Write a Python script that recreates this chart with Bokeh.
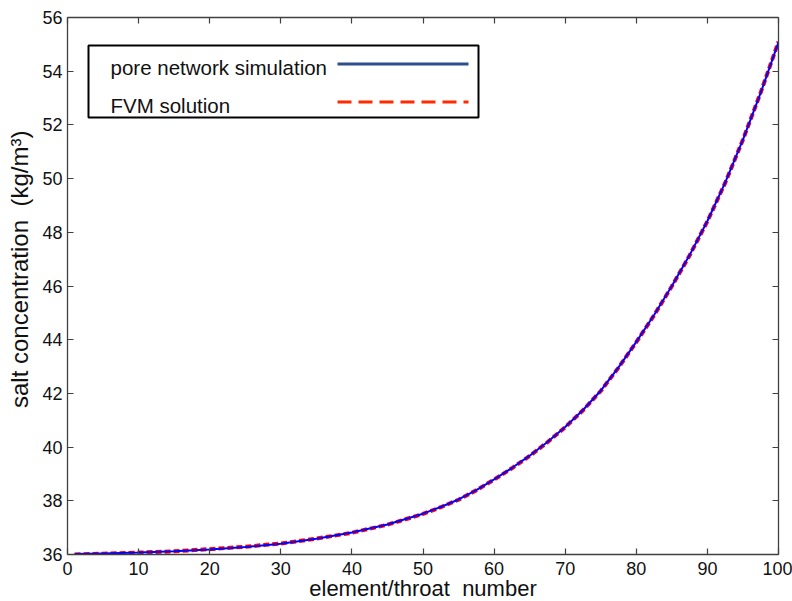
from bokeh.plotting import figure
from bokeh.models import (Range1d, LinearAxis, FixedTicker, Label, BoxAnnotation, Arrow)
from bokeh.embed import file_html
from bokeh.resources import INLINE

# ---------------- data ----------------
element = [1, 5, 10, 15, 20, 25, 30, 35, 40, 45, 50, 52.5, 55, 57.5, 60, 62.5, 65, 67.5, 70,
           72.5, 75, 77.5, 80, 82.5, 85, 87.5, 90, 92.5, 95, 97.5, 100]
pore_network = [36.02, 36.04, 36.07, 36.12, 36.19, 36.28, 36.40, 36.59, 36.82, 37.12,
                37.52, 37.77, 38.05, 38.40, 38.80, 39.22, 39.68, 40.19, 40.75,
                41.38, 42.10, 42.97, 43.92, 44.92, 46.00, 47.15, 48.42, 49.85, 51.45, 53.20, 55.08]
fvm_solution = [36.00, 36.03, 36.07, 36.12, 36.20, 36.29, 36.41, 36.59, 36.81, 37.11,
                37.51, 37.76, 38.04, 38.39, 38.79, 39.21, 39.67, 40.18, 40.74,
                41.37, 42.09, 42.96, 43.91, 44.91, 45.99, 47.14, 48.41, 49.84, 51.45, 53.21, 55.10]
x_ticks = [0, 10, 20, 30, 40, 50, 60, 70, 80, 90, 100]
y_ticks = [36, 38, 40, 42, 44, 46, 48, 50, 52, 54, 56]
series_names = ["pore network simulation", "FVM solution"]
x_title = "element/throat\u00a0 number"
y_title = "salt concentration\u00a0 (kg/m\u00b3)"

# ---------------- layout (canvas pixels) ----------------
W, H = 792, 601
FL, FR, FT, FB = 67, 778, 17, 554
X0, X1, Y0, Y1 = 0, 100, 36, 56

def dx(px):
    return X0 + (px - FL) / (FR - FL) * (X1 - X0)

def dy(py):
    return Y0 + (FB - py) / (FB - FT) * (Y1 - Y0)

FONT = "Liberation Sans"
AX = "#404040"
TXT = "#111111"

p = figure(frame_width=FR - FL, frame_height=FB - FT,
           min_border_left=FL, min_border_top=FT,
           min_border_right=W - FR, min_border_bottom=H - FB,
           x_range=Range1d(X0, X1), y_range=Range1d(Y0, Y1),
           output_backend="svg", toolbar_location=None,
           background_fill_color="white", border_fill_color="white")
p.outline_line_color = None
p.xgrid.visible = False
p.ygrid.visible = False

def style_axis(ax, ticks, show_labels):
    ax.ticker = FixedTicker(ticks=ticks)
    ax.axis_line_color = AX
    ax.axis_line_width = 1.3
    ax.major_tick_line_color = AX
    ax.major_tick_line_width = 1.2
    ax.major_tick_in = 6
    ax.major_tick_out = 0
    ax.minor_tick_in = 0
    ax.minor_tick_out = 0
    ax.major_label_text_font = FONT
    ax.major_label_text_font_size = "18px"
    ax.major_label_text_color = TXT
    ax.axis_label_text_font = FONT
    ax.axis_label_text_font_style = "normal"
    ax.axis_label_text_color = TXT
    if not show_labels:
        ax.major_label_overrides = {t: "" for t in ticks}
        ax.major_label_standoff = 0

xa = p.xaxis[0]
ya = p.yaxis[0]
style_axis(xa, x_ticks, True)
style_axis(ya, y_ticks, True)
xa.major_label_standoff = 7
xa.axis_label = x_title
xa.axis_label_text_font_size = "22px"
xa.axis_label_standoff = -2
ya.major_label_standoff = 5
ya.axis_label = "\u00a0" * 5 + y_title
ya.axis_label_text_font_size = "24px"
ya.axis_label_standoff = 6

top = LinearAxis()
right = LinearAxis()
style_axis(top, x_ticks, False)
style_axis(right, y_ticks, False)
p.add_layout(top, "above")
p.add_layout(right, "right")

# ---------------- series ----------------
p.line(element, fvm_solution, line_color="#FF0000", line_width=4, line_dash="6 3")
p.line(element, pore_network, line_color="#0000FF", line_width=2)

# ---------------- legend (label left, line right) ----------------
p.add_layout(BoxAnnotation(left=dx(88), right=dx(478), top=dy(45), bottom=dy(117),
                           fill_color="white", fill_alpha=1.0,
                           line_color="black", line_alpha=1.0, line_width=2))
p.add_layout(Label(x=dx(110), y=dy(67), text=series_names[0], text_font=FONT,
                   text_font_size="20.5px", text_baseline="alphabetic", text_color=TXT))
p.add_layout(Label(x=dx(110), y=dy(105), text=series_names[1], text_font=FONT,
                   text_font_size="20.5px", text_baseline="alphabetic", text_color=TXT))
p.add_layout(Arrow(end=None, x_start=dx(337), y_start=dy(63.5), x_end=dx(468), y_end=dy(63.5),
                   line_color="#2E4F8F", line_width=3))
p.add_layout(Arrow(end=None, x_start=dx(337), y_start=dy(101.5), x_end=dx(468), y_end=dy(101.5),
                   line_color="#FF2A00", line_width=3, line_dash="14 7"))

open("out.html", "w").write(file_html(p, INLINE))
